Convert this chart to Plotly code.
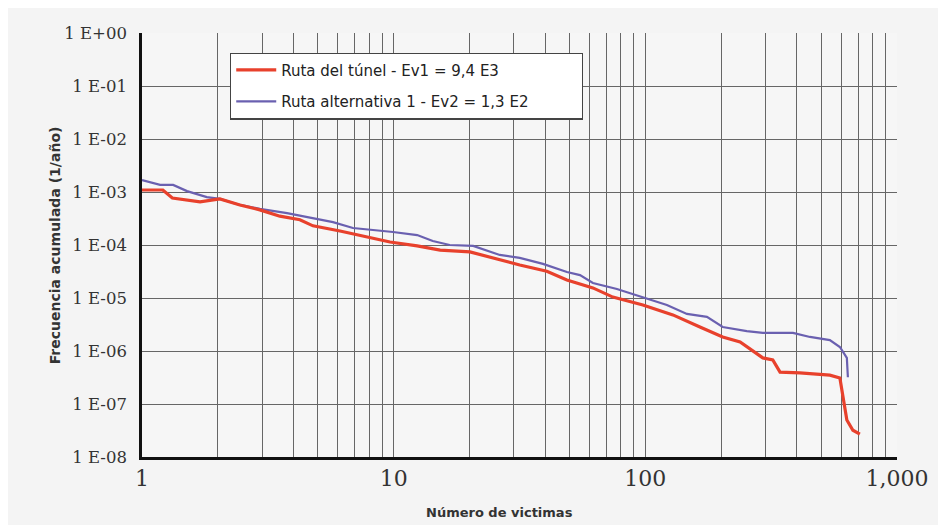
import plotly.graph_objects as go

# Ruta del túnel (red)
tunel_x = [1.0, 1.21, 1.32, 1.70, 2.04, 2.45, 2.94, 3.53, 4.24, 4.78, 6.12, 7.83, 9.67, 12.4, 15.3, 20.1,
           26.4, 31.7, 40.6, 48.8, 61.9, 74.3, 97.8, 128.7, 164.8, 203, 238, 293, 321, 343, 411, 541, 593,
           609, 632, 668, 712]
tunel_y = [1.09e-3, 1.09e-3, 7.7e-4, 6.5e-4, 7.4e-4, 5.7e-4, 4.6e-4, 3.5e-4, 3.0e-4, 2.3e-4, 1.84e-4,
           1.42e-4, 1.14e-4, 9.6e-5, 8.0e-5, 7.4e-5, 5.2e-5, 4.2e-5, 3.2e-5, 2.19e-5, 1.55e-5, 1.04e-5,
           7.4e-6, 4.8e-6, 2.84e-6, 1.84e-6, 1.48e-6, 7.4e-7, 6.8e-7, 4.0e-7, 3.85e-7, 3.5e-7, 3.1e-7,
           1.36e-7, 5.0e-8, 3.2e-8, 2.7e-8]

# Ruta alternativa 1 (blue)
alt_x = [1.0, 1.18, 1.33, 1.51, 1.81, 2.04, 2.45, 2.94, 3.77, 4.78, 5.74, 6.89, 8.28, 9.94, 12.4, 14.3,
         16.7, 20.7, 26.4, 31.7, 39.2, 48.8, 55.0, 61.9, 77.1, 97.8, 121.8, 146.3, 175.7, 203, 253, 293,
         386, 451, 541, 593, 632, 638]
alt_y = [1.68e-3, 1.36e-3, 1.36e-3, 1.04e-3, 8.0e-4, 7.4e-4, 5.7e-4, 4.8e-4, 4.0e-4, 3.2e-4, 2.7e-4,
         2.09e-4, 1.92e-4, 1.76e-4, 1.54e-4, 1.19e-4, 1.0e-4, 9.6e-5, 6.5e-5, 5.7e-5, 4.4e-5, 3.1e-5,
         2.7e-5, 1.92e-5, 1.48e-5, 1.04e-5, 7.4e-6, 5.0e-6, 4.4e-6, 2.84e-6, 2.38e-6, 2.19e-6, 2.19e-6,
         1.84e-6, 1.61e-6, 1.19e-6, 7.4e-7, 3.2e-7]

y_tickvals = [1, 1e-1, 1e-2, 1e-3, 1e-4, 1e-5, 1e-6, 1e-7, 1e-8]
y_ticktext = ["1 E+00", "1 E-01", "1 E-02", "1 E-03", "1 E-04", "1 E-05", "1 E-06", "1 E-07", "1 E-08"]
x_tickvals = [1, 10, 100, 1000]
x_ticktext = ["1", "10", "100", "1,000"]

name_tunel = "Ruta del túnel - Ev1 = 9,4 E3"
name_alt = "Ruta alternativa 1 - Ev2 = 1,3 E2"

fig = go.Figure()
fig.add_trace(go.Scatter(x=alt_x, y=alt_y, mode="lines", name=name_alt + "\u00a0" * 10,
                         legendgroup="b", legendrank=2,
                         line=dict(color="#6a60b0", width=2.2)))
fig.add_trace(go.Scatter(x=tunel_x, y=tunel_y, mode="lines", name=name_tunel,
                         legendgroup="a", legendrank=1,
                         line=dict(color="#e8412c", width=3.2)))

grid_col = "#666666"
fig.update_xaxes(type="log", range=[0, 3], tickvals=x_tickvals, ticktext=x_ticktext,
                 showgrid=True, gridcolor=grid_col, gridwidth=1.3,
                 minor=dict(dtick="D1", showgrid=True, gridcolor=grid_col, gridwidth=1.3),
                 showline=True, linecolor="#111", linewidth=2.5, ticks="", zeroline=False,
                 ticklabelstandoff=0,
                 tickfont=dict(family="DejaVu Serif", size=22, color="#333"))
fig.update_yaxes(type="log", range=[-8, 0], tickvals=y_tickvals, ticktext=y_ticktext,
                 showgrid=True, gridcolor=grid_col, gridwidth=1.3,
                 showline=True, linecolor="#111", linewidth=2.5, ticks="", zeroline=False,
                 ticklabelstandoff=9,
                 tickfont=dict(family="DejaVu Serif", size=16.5, color="#333"))

fig.update_layout(
    width=938, height=517,
    margin=dict(l=134, r=49, t=25, b=68),
    paper_bgcolor="#f4f4f4", plot_bgcolor="#f6f6f6",
    showlegend=True,
    legend=dict(x=0.1166, y=0.954, xanchor="left", yanchor="top",
                bgcolor="#ffffff", bordercolor="#444", borderwidth=1.2,
                font=dict(family="DejaVu Sans", size=15, color="#222"),
                traceorder="grouped", tracegroupgap=9, itemwidth=40),
    annotations=[
        dict(text="<b>Frecuencia acumulada (1/año)</b>", xref="paper", yref="paper",
             x=-0.128, y=0.5, textangle=-90, showarrow=False,
             font=dict(family="DejaVu Sans", size=14, color="#333")),
        dict(text="<b>Número de victimas</b>", xref="paper", yref="paper",
             x=0.474, y=-0.13, yanchor="middle", showarrow=False,
             font=dict(family="DejaVu Sans", size=13, color="#333")),
    ],
)

fig.write_html("out.html")
